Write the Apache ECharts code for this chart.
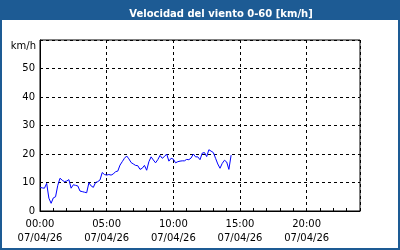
<!DOCTYPE html>
<html><head><meta charset="utf-8">
<script src="https://cdn.jsdelivr.net/npm/echarts@6/dist/echarts.min.js"></script>
<style>html,body{margin:0;padding:0;background:#fff}#c{width:400px;height:250px}</style>
</head><body><div id="c"></div>
<script>
// Chart data
const titleText = 'Velocidad del viento 0-60 [km/h]';
const unitLabel = 'km/h';
const dateLabel = '07/04/26';
const startHour = 0;          // first sample at 00:00
const stepMinutes = 10;       // one sample every 10 minutes
const speeds = [
  8.3, 8.1, 8.0, 9.7, 4.5, 2.7, 4.6, 5.0, 9.0, 11.5,
  10.8, 10.3, 10.5, 11.0, 8.0, 9.2, 9.0, 8.8, 7.0, 6.8,
  6.6, 6.4, 9.9, 8.8, 8.3, 10.0, 10.3, 10.9, 13.5, 12.8,
  12.6, 12.8, 12.6, 13.0, 13.8, 14.0, 16.1, 17.3, 18.5, 19.3,
  18.3, 17.0, 16.5, 16.0, 15.9, 14.6, 15.0, 16.0, 14.3, 17.3,
  19.0, 17.9, 16.9, 18.0, 19.5, 18.5, 19.1, 20.0, 17.5, 18.5,
  18.2, 16.9, 17.3, 17.5, 17.6, 17.6, 18.1, 18.0, 18.6, 20.0,
  19.0, 19.0, 18.0, 20.3, 20.5, 19.1, 21.5, 21.0, 20.5, 18.5,
  16.5, 15.0, 16.7, 17.8, 17.2, 14.6, 19.6
];
const xTickHours = [0, 5, 10, 15, 20];
const yTicks = [0, 10, 20, 30, 40, 50, 60];

const points = speeds.map((v, i) => [startHour + i * stepMinutes / 60, v]);
const pad = n => (n < 10 ? '0' : '') + n;
const font = 'DejaVu Sans';

const chart = echarts.init(document.getElementById('c'), null, {renderer: 'canvas'});
chart.setOption({
  animation: false,
  backgroundColor: '#ffffff',
  title: {
    text: titleText, left: 216, top: 4, textAlign: 'center',
    textStyle: {color: '#ffffff', fontFamily: font, fontWeight: 'bold', fontSize: 10}
  },
  graphic: [
    {type: 'rect', z: -1, shape: {x: 0, y: 0, width: 400, height: 20}, style: {fill: '#1d5b94'}},
    {type: 'rect', z: 100, shape: {x: 1, y: 1, width: 398, height: 248}, style: {fill: null, stroke: '#1d5b94', lineWidth: 2}},
    {type: 'text', x: 36, y: 41, style: {text: unitLabel, fill: '#000', font: '10px "DejaVu Sans"', textAlign: 'right'}}
  ],
  grid: {left: 40, top: 40, right: 40, bottom: 39, show: true, borderColor: '#000', borderWidth: 1},
  xAxis: {
    type: 'value', min: 0, max: 24, interval: 5,
    axisLine: {lineStyle: {color: '#000', width: 1}},
    axisTick: {inside: true, length: 3, lineStyle: {color: '#000'}},
    minorTick: {show: true, splitNumber: 5, length: 3, lineStyle: {color: '#000'}},
    splitLine: {show: true, lineStyle: {color: '#000', type: [3, 3]}},
    axisLabel: {
      showMaxLabel: false, color: '#000', fontFamily: font, fontSize: 10, lineHeight: 14, margin: 6,
      formatter: v => xTickHours.indexOf(v) >= 0 ? pad(v) + ':00\n' + dateLabel : ''
    }
  },
  yAxis: {
    type: 'value', min: yTicks[0], max: yTicks[yTicks.length - 1], interval: 10,
    axisLine: {show: true, lineStyle: {color: '#000'}},
    axisTick: {show: false},
    splitLine: {show: true, lineStyle: {color: '#000', type: [3, 3]}},
    axisLabel: {color: '#000', fontFamily: font, fontSize: 10, margin: 5,
      formatter: v => v === 60 ? '' : String(v)}
  },
  series: [{
    type: 'line', data: points, showSymbol: false, symbol: 'none',
    lineStyle: {color: '#0000ff', width: 1}, z: 5
  }]
});
</script></body></html>
